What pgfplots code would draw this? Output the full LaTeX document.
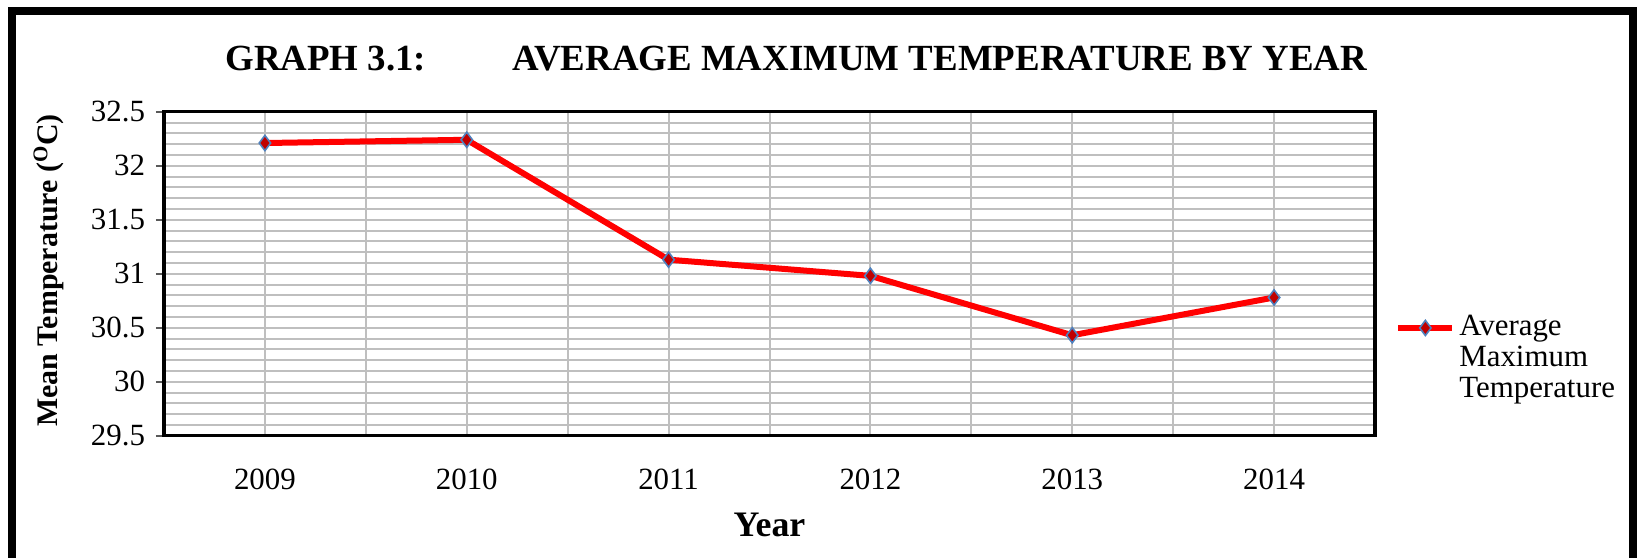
\documentclass[border=0pt]{standalone}
\usepackage{fontspec}
\setmainfont{Liberation Serif}
\usepackage{pgfplots}
\pgfplotsset{compat=1.18}
\definecolor{gridgray}{HTML}{BFBFBF}
\definecolor{markred}{HTML}{C00000}
\definecolor{markblue}{HTML}{4F81BD}
\definecolor{axisgray}{HTML}{595959}

\begin{document}
\begin{tikzpicture}
\useasboundingbox (0,0) rectangle (819bp,-279bp);
% outer frame (bottom edge falls outside the picture)
\draw[line width=4bp] (6bp,-290bp) -- (6bp,-5.5bp) -- (816.5bp,-5.5bp) -- (816.5bp,-290bp);
\node[anchor=base west,inner sep=0pt,font=\fontsize{18.5}{22}\selectfont\bfseries] at (112.5bp,-35bp) {GRAPH 3.1:};
\node[anchor=base west,inner sep=0pt,font=\fontsize{18.5}{22}\selectfont\bfseries] at (256bp,-35bp) {AVERAGE MAXIMUM TEMPERATURE BY YEAR};
\begin{axis}[
  at={(82bp,-217.85bp)}, anchor=south west,
  width=605.5bp, height=162bp, scale only axis,
  xmin=-0.5, xmax=5.5, ymin=29.5, ymax=32.5,
  xtick={0,1,2,3,4,5}, xticklabels={2009,2010,2011,2012,2013,2014},
  minor xtick={0.5,1.5,2.5,3.5,4.5},
  ytick={29.5,30,30.5,31,31.5,32,32.5},
  minor ytick={29.6,29.7,29.8,29.9,30.1,30.2,30.3,30.4,30.6,30.7,30.8,30.9,31.1,31.2,31.3,31.4,31.6,31.7,31.8,31.9,32.1,32.2,32.3,32.4},
  ytick pos=left,
  grid=both,
  major grid style={gridgray, line width=1bp},
  minor grid style={gridgray, line width=1bp},
  axis line style={black, line width=1.6bp},
  tick align=outside,
  x tick style={draw=none},
  y tick style={axisgray, line width=1bp},
  major tick length=4bp, minor tick length=0pt,
  /pgf/number format/assume math mode=true,
  tick label style={font=\fontsize{15.5}{18}\selectfont},
  xticklabel style={yshift=-9bp},
  yticklabel style={xshift=-2bp},
  xlabel={Year},
  xlabel style={font=\fontsize{18}{21}\selectfont\bfseries, at={(axis description cs:0.5,0)}, anchor=center, yshift=-44.6bp},
  ylabel={Mean Temperature (\textsuperscript{O}C)},
  ylabel style={font=\fontsize{15}{18}\selectfont\bfseries, at={(axis description cs:-0.095,0.51)}, anchor=center},
  legend style={at={(1,0.24)}, anchor=west, xshift=7bp, draw=none, fill=none,
    font=\fontsize{15.5}{15.5}\selectfont, nodes={align=left}},
  legend cell align=left,
  legend image code/.code={
    \path[draw=none, fill=none] (0bp,-15bp) -- (27bp,-15bp);
    \draw[#1, mark=none] (0bp,15bp) -- (27bp,15bp);
    \draw[#1, only marks] plot coordinates {(13.5bp,15bp)};
  },
]
\addplot[red, line width=3bp, mark=diamond*,
  mark options={fill=markred, draw=markblue, line width=0.8bp}, mark size=3.8bp]
  coordinates {
  (0,32.21) (1,32.24) (2,31.13) (3,30.98) (4,30.43) (5,30.78)
  };
\addlegendentry{Average\\Maximum\\Temperature}
\end{axis}
\end{tikzpicture}
\end{document}
